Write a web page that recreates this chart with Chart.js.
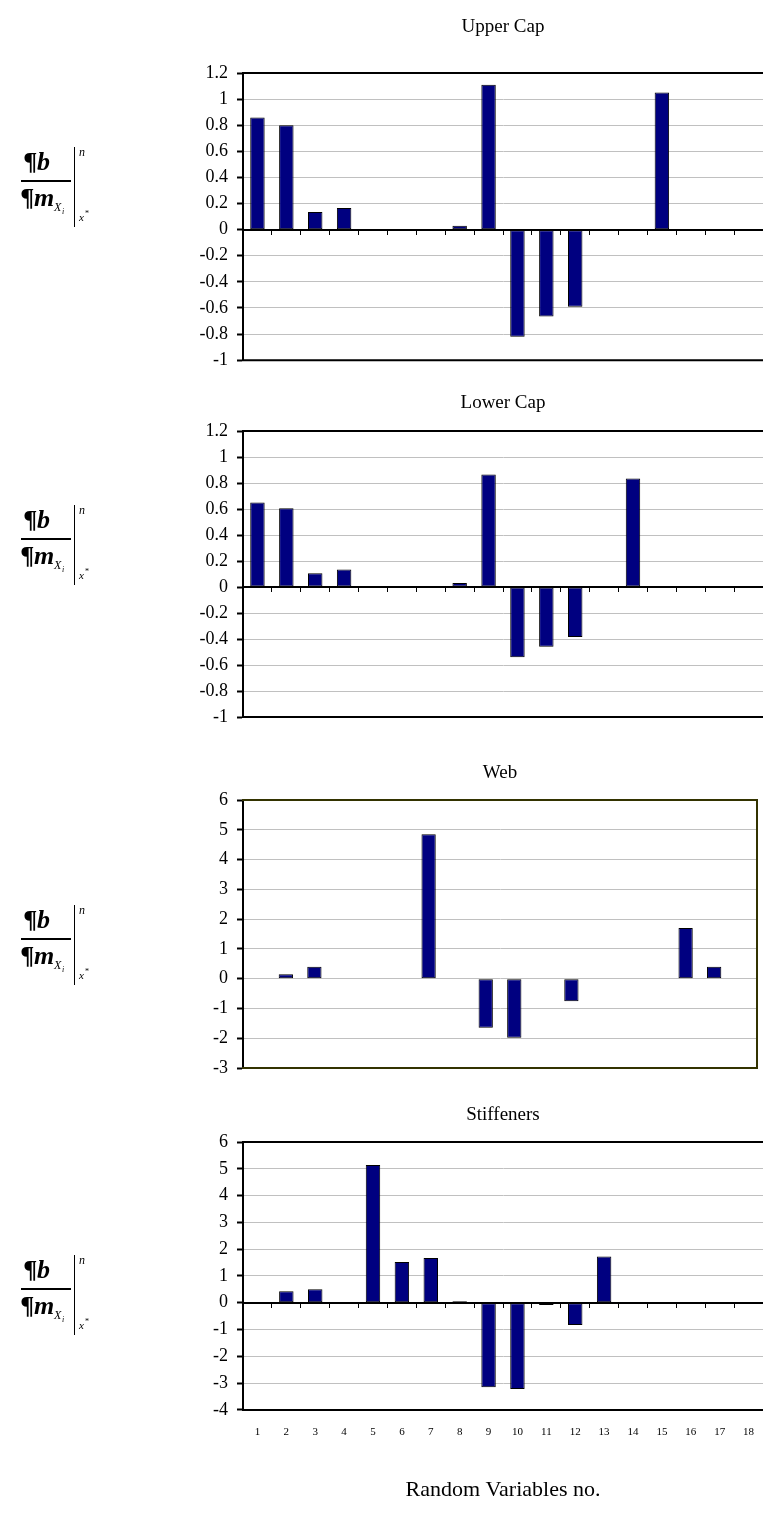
<!DOCTYPE html>
<html><head><meta charset="utf-8">
<script src="https://cdn.jsdelivr.net/npm/chart.js@4.4.1/dist/chart.umd.min.js"></script>
<style>
html,body{margin:0;padding:0;background:#fff;}
body{width:763px;height:1513px;position:relative;overflow:hidden;font-family:"Liberation Serif","Times New Roman",serif;color:#000;}
canvas{position:absolute;left:0;}
.f{position:absolute;left:-6px;width:110px;height:80px;}
.f span,.f div{position:absolute;}
.num{left:30px;top:0px;font:bold italic 26px "Liberation Serif",serif;}
.fl{left:27px;top:33px;width:50px;height:2px;background:#000;}
.den{left:27px;top:36px;font:bold italic 26px "Liberation Serif",serif;}
.sx{left:60px;top:53px;font:italic 12px "Liberation Serif",serif;}
.si{left:68px;top:60px;font:italic 8px "Liberation Serif",serif;}
.vl{left:80px;top:0px;width:1px;height:80px;background:#000;}
.sn{left:85px;top:-2px;font:italic 12px "Liberation Serif",serif;}
.sxs{left:85px;top:64px;font:italic 11px "Liberation Serif",serif;}
.sst{left:91px;top:62px;font:8px "Liberation Serif",serif;}
</style></head><body>
<canvas id="c1" width="763" height="380" style="top:0px"></canvas>
<canvas id="c2" width="763" height="360" style="top:380px"></canvas>
<canvas id="c3" width="763" height="350" style="top:740px"></canvas>
<canvas id="c4" width="763" height="423" style="top:1090px"></canvas>
<div class="f" style="top:147px"><span class="num">¶b</span><div class="fl"></div><span class="den">¶m</span><span class="sx">X</span><span class="si">i</span><div class="vl"></div><span class="sn">n</span><span class="sxs">x</span><span class="sst">*</span></div>
<div class="f" style="top:505px"><span class="num">¶b</span><div class="fl"></div><span class="den">¶m</span><span class="sx">X</span><span class="si">i</span><div class="vl"></div><span class="sn">n</span><span class="sxs">x</span><span class="sst">*</span></div>
<div class="f" style="top:905px"><span class="num">¶b</span><div class="fl"></div><span class="den">¶m</span><span class="sx">X</span><span class="si">i</span><div class="vl"></div><span class="sn">n</span><span class="sxs">x</span><span class="sst">*</span></div>
<div class="f" style="top:1255px"><span class="num">¶b</span><div class="fl"></div><span class="den">¶m</span><span class="sx">X</span><span class="si">i</span><div class="vl"></div><span class="sn">n</span><span class="sxs">x</span><span class="sst">*</span></div>
<script>
// ---- data ----
const categories = ['1','2','3','4','5','6','7','8','9','10','11','12','13','14','15','16','17','18'];
const upperCap   = [0.86, 0.80, 0.135, 0.165, 0, 0, 0, 0.03, 1.11, -0.82, -0.665, -0.59, 0, 0, 1.05, 0, 0, 0];
const lowerCap   = [0.65, 0.605, 0.105, 0.135, 0, 0, 0, 0.03, 0.865, -0.54, -0.46, -0.385, 0, 0.835, 0, 0, 0, 0];
const web        = [0, 0.15, 0.4, 0, 0, 0, 4.85, 0, -1.65, -1.98, 0, -0.76, 0, 0, 0, 1.7, 0.4, 0];
const stiffeners = [0, 0.43, 0.5, 0, 5.14, 1.52, 1.67, 0.06, -3.15, -3.22, -0.08, -0.83, 1.73, 0, 0, 0, 0, 0];
const capTicks       = [-1, -0.8, -0.6, -0.4, -0.2, 0, 0.2, 0.4, 0.6, 0.8, 1, 1.2];
const capTickLabels  = ['-1','-0.8','-0.6','-0.4','-0.2','0','0.2','0.4','0.6','0.8','1','1.2'];
const webTicks       = [-3, -2, -1, 0, 1, 2, 3, 4, 5, 6];
const webTickLabels  = ['-3','-2','-1','0','1','2','3','4','5','6'];
const stiffTicks      = [-4, -3, -2, -1, 0, 1, 2, 3, 4, 5, 6];
const stiffTickLabels = ['-4','-3','-2','-1','0','1','2','3','4','5','6'];
const titles = ['Upper Cap', 'Lower Cap', 'Web', 'Stiffeners'];
const xAxisTitle = 'Random Variables no.';

const FONT = '"Liberation Serif", "Times New Roman", serif';
const BAR = '#000080';

const framePlugin = {
  id: 'frame',
  afterDatasetsDraw(chart, args, o) {
    if (!o || !o.sides) return;
    const {left, right, top, bottom} = chart.chartArea;
    const ctx = chart.ctx;
    ctx.save();
    ctx.strokeStyle = o.color; ctx.lineWidth = o.width;
    ctx.beginPath();
    if (o.sides.includes('t')) { ctx.moveTo(left - 1, top); ctx.lineTo(right, top); }
    if (o.sides.includes('b')) { ctx.moveTo(left - 1, bottom); ctx.lineTo(right, bottom); }
    if (o.sides.includes('r')) { ctx.moveTo(right, top - 1); ctx.lineTo(right, bottom + 1); }
    ctx.stroke();
    ctx.restore();
  }
};

function makeChart(id, cfg) {
  const scales = {
    y: {
      min: cfg.ticks[0], max: cfg.ticks[cfg.ticks.length - 1],
      afterBuildTicks: s => { s.ticks = cfg.ticks.map(v => ({value: v})); },
      afterFit: s => { s.width = 243; },
      ticks: { callback: (v, i) => cfg.tickLabels[i], color: '#000', font: {family: FONT, size: 18}, padding: 9 },
      grid: { color: '#c0c0c0', lineWidth: 1, drawTicks: true, tickLength: 6, tickColor: '#000', tickWidth: 2 },
      border: { color: '#000', width: 2 }
    },
    x: cfg.zeroAxis ? {
      type: 'category', position: {y: 0}, offset: true,
      ticks: { display: false },
      grid: { display: true, drawOnChartArea: false, drawTicks: true, tickLength: 4, tickColor: '#000', tickWidth: 1, offset: true },
      border: { display: true, color: '#000', width: 2 }
    } : { type: 'category', display: false, offset: true }
  };
  if (cfg.bottomLabels) {
    scales.x2 = {
      type: 'category', axis: 'x', position: 'bottom', offset: true,
      grid: { display: false, drawTicks: false, offset: true },
      border: { display: false },
      afterFit: s => { s.paddingLeft = 0; s.paddingRight = 0; },
      ticks: { color: '#000', font: {family: FONT, size: 11}, padding: 16, maxRotation: 0, autoSkip: false },
      title: { display: true, text: xAxisTitle, color: '#000', font: {family: FONT, size: 22}, padding: {top: 21.5, bottom: 5} }
    };
  }
  return new Chart(document.getElementById(id), {
    type: 'bar',
    data: {
      labels: categories,
      datasets: [{
        data: cfg.values, backgroundColor: BAR, borderColor: '#000', borderWidth: 1,
        borderSkipped: false, barPercentage: 0.5, categoryPercentage: 1, xAxisID: 'x', yAxisID: 'y'
      }]
    },
    options: {
      responsive: false, animation: false, devicePixelRatio: 1,
      layout: { padding: cfg.padding },
      scales,
      plugins: {
        legend: { display: false }, tooltip: { enabled: false },
        title: { display: true, fullSize: false, text: cfg.title, color: '#000', font: {family: FONT, size: 19, weight: 'normal'}, padding: cfg.titlePad },
        frame: cfg.frame
      }
    },
    plugins: [framePlugin]
  });
}

makeChart('c1', { values: upperCap, ticks: capTicks, tickLabels: capTickLabels, title: titles[0], zeroAxis: true,
  padding: {top: 0, left: 0, right: 0, bottom: 14}, titlePad: {top: 15.6, bottom: 34.6},
  frame: {sides: 'tb', color: '#000', width: 2} });
makeChart('c2', { values: lowerCap, ticks: capTicks, tickLabels: capTickLabels, title: titles[1], zeroAxis: true,
  padding: {top: 0, left: 0, right: 0, bottom: 23}, titlePad: {top: 11.6, bottom: 16.6},
  frame: {sides: 'tb', color: '#000', width: 2} });
makeChart('c3', { values: web, ticks: webTicks, tickLabels: webTickLabels, title: titles[2], zeroAxis: false,
  padding: {top: 0, left: 0, right: 6, bottom: 22}, titlePad: {top: 21.6, bottom: 15.6},
  frame: {sides: 'tbr', color: '#333300', width: 2} });
makeChart('c4', { values: stiffeners, ticks: stiffTicks, tickLabels: stiffTickLabels, title: titles[3], zeroAxis: true, bottomLabels: true,
  padding: {top: 0, left: 0, right: 0, bottom: 5}, titlePad: {top: 13.6, bottom: 15.6},
  frame: {sides: 'tb', color: '#000', width: 2} });
</script>
</body></html>
